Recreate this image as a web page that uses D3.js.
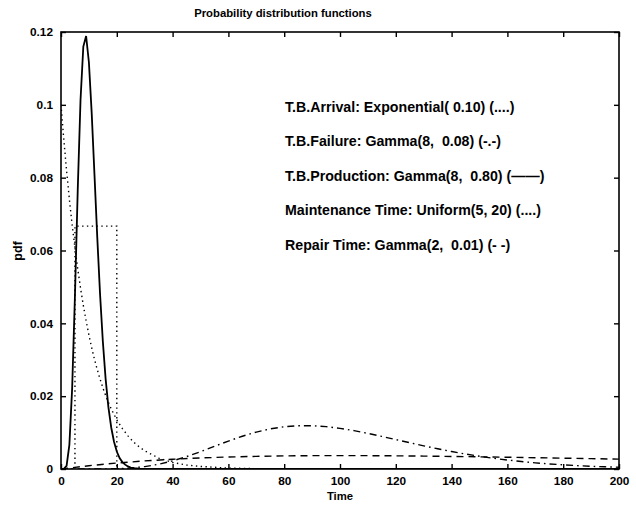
<!DOCTYPE html>
<html><head><meta charset="utf-8">
<script src="https://cdn.jsdelivr.net/npm/d3@7"></script>
<style>
body{margin:0;background:#fff;}
text{font-family:"Liberation Sans",Arial,sans-serif;fill:#000;}
</style></head>
<body><svg id="c" width="636" height="506"></svg>
<script>
// ---- data ----
const xTicks = [0,20,40,60,80,100,120,140,160,180,200];
const yTicks = [0,0.02,0.04,0.06,0.08,0.1,0.12];
const yTickLabels = ["0","0.02","0.04","0.06","0.08","0.1","0.12"];

// T.B.Arrival: Exponential(0.10)  (dotted)
const arrivalT = [0,1,2,3,4,5,6,7,8,9,10,11,12,13,14,15,16,17,18,19,20,22,24,26,28,30,35,40,45,50,60,70,80,100,150,200];
const arrivalV = [0.1,0.0905,0.0819,0.0741,0.067,0.0607,0.0549,0.0497,0.0449,0.0407,0.0368,0.0333,0.0301,0.0273,0.0247,0.0223,0.0202,0.0183,0.0165,0.015,0.0135,0.0111,0.0091,0.0074,0.0061,0.005,0.003,0.0018,0.0011,0.0007,0.00025,0.00009,0.00003,0.000005,0,0];

// T.B.Failure: Gamma(8, 0.08)  (dash-dot)
const failureT = [0,5,10,15,20,25,30,35,40,45,50,55,60,65,70,75,80,85,90,95,100,105,110,115,120,125,130,135,140,145,150,155,160,165,170,175,180,185,190,195,200];
const failureV = [0,0.00000002,0.0000015,0.000017,0.000086,0.000275,0.00066,0.0013,0.00222,0.0034,0.00476,0.00622,0.00767,0.009,0.01014,0.01101,0.0116,0.01189,0.01189,0.01163,0.01117,0.01053,0.00978,0.00895,0.00808,0.00721,0.00636,0.00555,0.0048,0.00411,0.0035,0.00295,0.00247,0.00205,0.00169,0.00139,0.00114,0.00092,0.00075,0.0006,0.00048];

// T.B.Production: Gamma(8, 0.80)  (solid)
const prodT = [0,1,2,3,4,5,6,7,8,9,10,11,12,13,14,15,16,17,18,19,20,21,22,23,24,25,26,28,30,40,200];
const prodV = [0,0.000015,0.00086,0.0066,0.0222,0.0476,0.0767,0.1014,0.116,0.1189,0.1117,0.0978,0.0808,0.0636,0.048,0.035,0.0247,0.0169,0.0114,0.0075,0.0048,0.003,0.0019,0.0012,0.0007,0.0004,0.00025,0.00008,0.00003,0,0];

// Maintenance Time: Uniform(5, 20)  (dotted)
const maintT = [0,5,5,20,20,200];
const maintV = [0,0,0.0667,0.0667,0,0];

// Repair Time: Gamma(2, 0.01)  (dashed)
const repairT = [0,10,20,30,40,50,60,70,80,90,100,110,120,130,140,150,160,170,180,190,200];
const repairV = [0,0.000905,0.001637,0.002222,0.002681,0.003033,0.003293,0.003476,0.003595,0.003659,0.003679,0.003662,0.003614,0.003543,0.003452,0.003347,0.00323,0.003106,0.002975,0.002842,0.002707];

const legendLines = [
  "T.B.Arrival: Exponential( 0.10) (....)",
  "T.B.Failure: Gamma(8,  0.08) (-.-)",
  "T.B.Production: Gamma(8,  0.80) (——)",
  "Maintenance Time: Uniform(5, 20) (....)",
  "Repair Time: Gamma(2,  0.01) (- -)"
];
const titleText = "Probability distribution functions";
const xLabel = "Time";
const yLabel = "pdf";

// ---- layout ----
const L = 61, R = 619, T = 32, B = 469;
const svg = d3.select("#c");
const x = d3.scaleLinear().domain([0,200]).range([L,R]);
const y = d3.scaleLinear().domain([0,0.12]).range([B,T]);

svg.append("clipPath").attr("id","pc").append("rect")
  .attr("x",L).attr("y",T-2).attr("width",R-L).attr("height",B-T+2);

const line = d3.line().x(d=>x(d[0])).y(d=>y(d[1]));
const series = [
  {t:arrivalT, v:arrivalV, dash:"1.4,3.4", w:1.4},
  {t:failureT, v:failureV, dash:"7,4,1.6,4", w:1.4},
  {t:prodT, v:prodV, dash:null, w:1.8},
  {t:maintT, v:maintV, dash:"1.4,3.4", w:1.4},
  {t:repairT, v:repairV, dash:"7,5", w:1.4}
];
const g = svg.append("g").attr("clip-path","url(#pc)");
series.forEach(s=>{
  g.append("path").datum(s.t.map((t,i)=>[t,s.v[i]]))
    .attr("d",line).attr("fill","none").attr("stroke","#000")
    .attr("stroke-width",s.w)
    .attr("stroke-dasharray",s.dash);
});

// frame
svg.append("rect").attr("x",L).attr("y",T).attr("width",R-L).attr("height",B-T)
  .attr("fill","none").attr("stroke","#000").attr("stroke-width",1.6);

// axes with inward ticks
const tl = 5;
const xb = svg.append("g").attr("transform",`translate(0,${B})`)
  .call(d3.axisBottom(x).tickValues(xTicks).tickSizeInner(-tl).tickSizeOuter(0).tickPadding(8).tickFormat(d3.format("d")));
const xt = svg.append("g").attr("transform",`translate(0,${T})`)
  .call(d3.axisTop(x).tickValues(xTicks).tickSizeInner(-tl).tickSizeOuter(0).tickFormat(""));
const yl = svg.append("g").attr("transform",`translate(${L},0)`)
  .call(d3.axisLeft(y).tickValues(yTicks).tickSizeInner(-tl).tickSizeOuter(0).tickPadding(8).tickFormat((d,i)=>yTickLabels[i]));
const yr = svg.append("g").attr("transform",`translate(${R},0)`)
  .call(d3.axisRight(y).tickValues(yTicks).tickSizeInner(-tl).tickSizeOuter(0).tickFormat(""));
[xb,xt,yl,yr].forEach(a=>{
  a.select(".domain").remove();
  a.selectAll("line").attr("stroke","#000").attr("stroke-width",1.4);
  a.selectAll("text").attr("font-family","Liberation Sans, Arial, sans-serif")
    .attr("font-size",11.8).attr("font-weight","bold").attr("fill","#000");
});

// title & labels
svg.append("text").attr("x",283).attr("y",17).attr("text-anchor","middle")
  .attr("font-size",11.3).attr("font-weight","bold").text(titleText);
svg.append("text").attr("x",340).attr("y",500).attr("text-anchor","middle")
  .attr("font-size",11.3).attr("font-weight","bold").text(xLabel);
svg.append("text").attr("transform",`translate(22,251) rotate(-90)`).attr("text-anchor","middle")
  .attr("font-size",12.5).attr("font-weight","bold").text(yLabel);

// legend text
svg.append("g").selectAll("text").data(legendLines).join("text")
  .attr("x",285).attr("y",(d,i)=>111.5+i*34.6)
  .attr("font-size",14.2).attr("font-weight","bold").style("white-space","pre").text(d=>d);
</script></body></html>
